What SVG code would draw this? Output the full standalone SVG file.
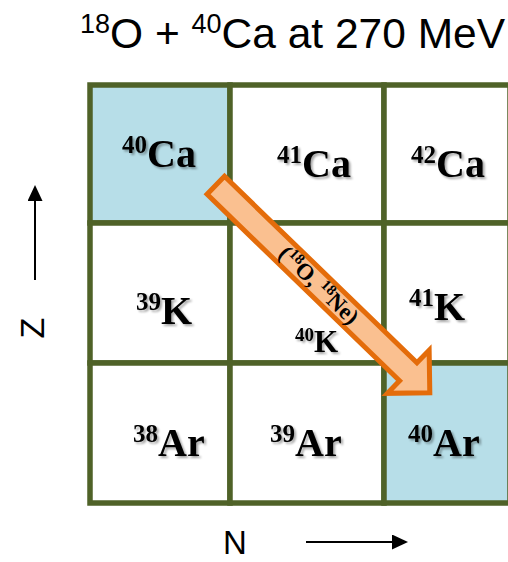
<svg xmlns="http://www.w3.org/2000/svg" width="508" height="562" viewBox="0 0 508 562">
  <style>
    .cell { fill: #FFFFFF; stroke: #4F6228; stroke-width: 5.5; }
    .hl { fill: #B7DEE8; }
    .lbl { font-family: "Liberation Serif", "Times New Roman", serif; font-weight: bold; fill: #000; filter: url(#shadow); }
    .axis { font-family: "Liberation Sans", Arial, sans-serif; fill: #000; }
    .axl { stroke: #000; stroke-width: 2; fill: none; }
    .arrow { fill: #FAC090; stroke: #E46C0A; stroke-width: 5; stroke-linejoin: miter; }
    .arrowlbl { font-family: "Liberation Serif", "Times New Roman", serif; font-weight: bold; fill: #000; }
  </style>
  <defs>
    <filter id="shadow" x="-20%" y="-20%" width="150%" height="150%">
      <feDropShadow dx="2" dy="2" stdDeviation="1.2" flood-color="#000" flood-opacity="0.35"/>
    </filter>
    <marker id="head" markerUnits="userSpaceOnUse" markerWidth="16" markerHeight="16" refX="0" refY="7.5" orient="auto">
      <path d="M0,0 L16,7.5 L0,15 Z" fill="#000"/>
    </marker>
  </defs>

  <g id="title">
    <text class="axis" x="80" y="48" font-size="42.5"><tspan font-size="27" dy="-15">18</tspan><tspan dy="15">O + </tspan><tspan font-size="27" dy="-15">40</tspan><tspan dy="15">Ca at 270 MeV</tspan></text>
  </g>

  <g id="cell-40Ca">
    <rect class="cell hl" x="90" y="85" width="140" height="138"/>
    <text class="lbl" x="122" y="167" font-size="40"><tspan font-size="25" dy="-14">40</tspan><tspan dy="14">Ca</tspan></text>
  </g>
  <g id="cell-41Ca">
    <rect class="cell" x="230" y="85" width="154" height="138"/>
    <text class="lbl" x="277" y="177" font-size="40"><tspan font-size="25" dy="-14">41</tspan><tspan dy="14">Ca</tspan></text>
  </g>
  <g id="cell-42Ca">
    <rect class="cell" x="384" y="85" width="126" height="138"/>
    <text class="lbl" x="411" y="177" font-size="40"><tspan font-size="25" dy="-14">42</tspan><tspan dy="14">Ca</tspan></text>
  </g>
  <g id="cell-39K">
    <rect class="cell" x="90" y="223" width="140" height="140"/>
    <text class="lbl" x="136" y="324" font-size="40"><tspan font-size="25" dy="-14">39</tspan><tspan dy="14">K</tspan></text>
  </g>
  <g id="cell-40K">
    <rect class="cell" x="230" y="223" width="154" height="140"/>
    <text class="lbl" x="295" y="352" font-size="31"><tspan font-size="19" dy="-11">40</tspan><tspan dy="11">K</tspan></text>
  </g>
  <g id="cell-41K">
    <rect class="cell" x="384" y="223" width="126" height="140"/>
    <text class="lbl" x="409" y="320" font-size="40"><tspan font-size="25" dy="-14">41</tspan><tspan dy="14">K</tspan></text>
  </g>
  <g id="cell-38Ar">
    <rect class="cell" x="90" y="363" width="140" height="140"/>
    <text class="lbl" x="133" y="456" font-size="40"><tspan font-size="25" dy="-14">38</tspan><tspan dy="14">Ar</tspan></text>
  </g>
  <g id="cell-39Ar">
    <rect class="cell" x="230" y="363" width="154" height="140"/>
    <text class="lbl" x="270" y="456" font-size="40"><tspan font-size="25" dy="-14">39</tspan><tspan dy="14">Ar</tspan></text>
  </g>
  <g id="cell-40Ar">
    <rect class="cell hl" x="384" y="363" width="126" height="140"/>
    <text class="lbl" x="408" y="456" font-size="40"><tspan font-size="25" dy="-14">40</tspan><tspan dy="14">Ar</tspan></text>
  </g>

  <g id="connectors">
    <g id="reaction-arrow" transform="translate(215.8,185.3) rotate(44.1)">
      <path class="arrow" d="M0,-12.5 L268,-12.5 L268,-30 L298,0 L268,30 L268,12.5 L0,12.5 Z"/>
      <text class="arrowlbl" x="143.5" y="7.5" font-size="23" text-anchor="middle">(<tspan font-size="15" dy="-8">18</tspan><tspan dy="8">O, </tspan><tspan font-size="15" dy="-8">18</tspan><tspan dy="8">Ne)</tspan></text>
    </g>
    <line id="z-axis" class="axl" x1="35" y1="280" x2="35" y2="201" marker-end="url(#head)"/>
    <line id="n-axis" class="axl" x1="306" y1="542" x2="392" y2="542" marker-end="url(#head)"/>
  </g>

  <g id="axis-labels">
    <text class="axis" x="0" y="0" font-size="34" text-anchor="middle" transform="translate(44,328) rotate(-90)">Z</text>
    <text class="axis" x="235" y="554" font-size="33" text-anchor="middle">N</text>
  </g>
</svg>
